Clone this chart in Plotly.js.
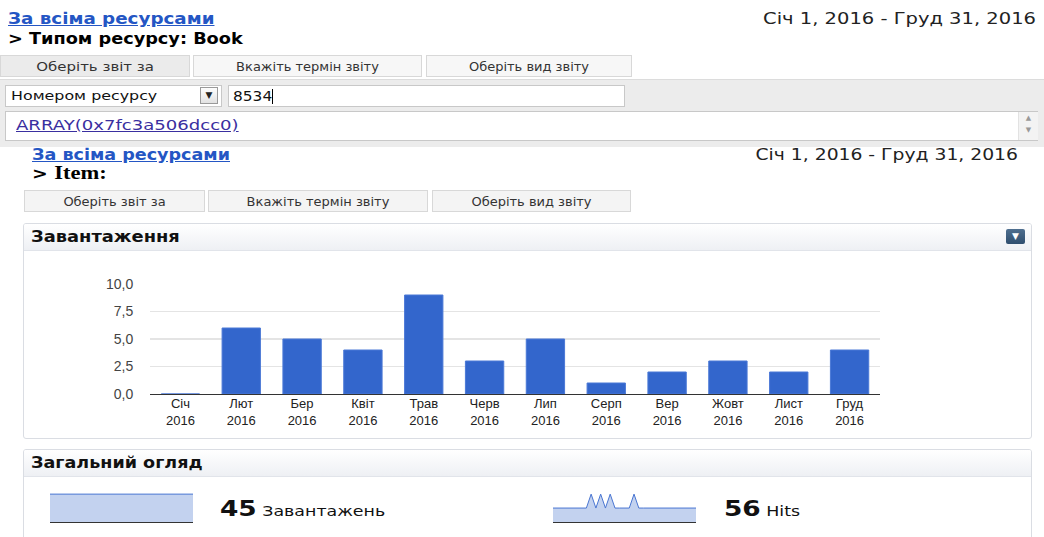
<!DOCTYPE html>
<html><head><meta charset="utf-8">
<script src="https://cdn.plot.ly/plotly-3.0.1.min.js"></script>
<style>
html,body{margin:0;padding:0}
body{width:1044px;height:537px;overflow:hidden;background:#fff;font-family:"DejaVu Sans",Verdana,sans-serif;position:relative;color:#111}
.a{position:absolute;white-space:nowrap}
.s{display:inline-block;transform-origin:left center}
.sr{display:inline-block;transform-origin:right center}
.u{text-decoration:underline}
.lnk{font-weight:bold;font-size:15px;color:#2456c4}
.crumb{font-weight:bold;font-size:15px;color:#000}
.date{font-size:15px;color:#222}
.btn{position:absolute;height:22px;line-height:22px;text-align:center;font-size:13px;color:#333;border:1px solid #d8d8d8;background:#f4f4f4;box-sizing:border-box}
.panel{position:absolute;border:1px solid #dadde3;border-radius:3px;background:#fff;box-sizing:border-box;overflow:hidden}
.phead{position:absolute;left:0;top:0;right:0;height:26px;background:linear-gradient(#ffffff,#eef0f4);border-bottom:1px solid #e1e4ea;font-weight:bold;font-size:15px;line-height:27px;padding-left:7px;color:#111}
</style>
</head><body>

<div class="a lnk" style="left:8px;top:10px"><span class="s u" style="transform:scaleX(1.22)">За всіма ресурсами</span></div>
<div class="a crumb" style="left:8px;top:30px"><span class="s" style="transform:scaleX(1.18)">&gt; Типом ресурсу: Book</span></div>
<div class="a date" style="right:8px;top:10px"><span class="sr" style="transform:scaleX(1.30)">Січ 1, 2016 - Груд 31, 2016</span></div>

<div class="btn" style="left:0;top:55px;width:190px;background:#ebebeb"><span style="display:inline-block;transform:scaleX(1.15)">Оберіть звіт за</span></div>
<div class="btn" style="left:193px;top:55px;width:229px;background:#f7f7f7">Вкажіть термін звіту</div>
<div class="btn" style="left:426px;top:55px;width:206px;background:#f7f7f7">Оберіть вид звіту</div>

<div class="a" style="left:0;top:79px;width:1044px;height:67px;background:#ececec;border-top:1px solid #dcdcdc"></div>
<div class="a" style="left:5px;top:85px;width:217px;height:22px;background:#fff;border:1px solid #c8c8c8;box-sizing:border-box;font-size:13px;line-height:20px;padding-left:5px;color:#111"><span class="s" style="transform:scaleX(1.22)">Номером ресурсу</span></div>
<div class="a" style="left:200px;top:87px;width:18px;height:17px;border:1px solid #9a9a9a;background:linear-gradient(#fdfdfd,#e2e2e2);box-sizing:border-box;font-size:9px;line-height:15px;text-align:center;color:#222">▼</div>
<div class="a" style="left:228px;top:85px;width:397px;height:22px;background:#fff;border:1px solid #c8c8c8;box-sizing:border-box;font-size:14px;line-height:20px;padding-left:4px;color:#111"><span class="s" style="transform:scaleX(1.1)">8534</span><span style="display:inline-block;width:1px;height:15px;background:#000;vertical-align:-3px;margin-left:3px"></span></div>
<div class="a" style="left:5px;top:111px;width:1033px;height:30px;background:#fff;border:1px solid #c8c8c8;box-sizing:border-box"></div>
<div class="a" style="left:16px;top:117px;font-size:14px;color:#3a2fa0"><span class="s u" style="transform:scaleX(1.29)">ARRAY(0x7fc3a506dcc0)</span></div>
<div class="a" style="left:1018px;top:112px;width:19px;height:28px;background:#f3f3f3;border-left:1px solid #e2e2e2;font-size:7px;color:#999;text-align:center;line-height:12px">▲<br>▼</div>

<div class="a lnk" style="left:32px;top:146px"><span class="s u" style="transform:scaleX(1.17)">За всіма ресурсами</span></div>
<div class="a crumb" style="left:32px;top:163px"><span class="s" style="transform:scaleX(1.25)">&gt; <span style="font-family:'Liberation Serif','Times New Roman',serif;font-size:18px">Item:</span></span></div>
<div class="a date" style="right:26px;top:146px"><span class="sr" style="transform:scaleX(1.25)">Січ 1, 2016 - Груд 31, 2016</span></div>

<div class="btn" style="left:24px;top:190px;width:181px">Оберіть звіт за</div>
<div class="btn" style="left:208px;top:190px;width:220px">Вкажіть термін звіту</div>
<div class="btn" style="left:432px;top:190px;width:199px">Оберіть вид звіту</div>

<div class="panel" style="left:23px;top:223px;width:1009px;height:216px">
  <div class="phead"><span class="s" style="transform:scaleX(1.19)">Завантаження</span></div>
  <div class="a" style="right:6px;top:5px;width:19px;height:15px;border-radius:2px;background:linear-gradient(#4f6f8f,#2f4e6e);color:#fff;font-size:9px;line-height:15px;text-align:center">▼</div>
</div>
<div id="chart" class="a" style="left:24px;top:251px;width:1006px;height:186px"></div>

<div class="panel" style="left:23px;top:449px;width:1009px;height:100px">
  <div class="phead"><span class="s" style="transform:scaleX(1.17)">Загальний огляд</span></div>
</div>
<div id="spark1" class="a" style="left:50px;top:492px;width:143px;height:32px"></div>
<div id="spark2" class="a" style="left:553px;top:492px;width:143px;height:32px"></div>
<div class="a" style="left:220px;top:496px;font-size:14.5px;color:#111"><span class="s" style="transform:scaleX(1.2)"><b style="font-size:22px">45</b> Завантажень</span></div>
<div class="a" style="left:724px;top:496px;font-size:14.5px;color:#111"><span class="s" style="transform:scaleX(1.2)"><b style="font-size:22px">56</b> Hits</span></div>

<script>
const months = ['Січ','Лют','Бер','Квіт','Трав','Черв','Лип','Серп','Вер','Жовт','Лист','Груд'];
const years = ['2016','2016','2016','2016','2016','2016','2016','2016','2016','2016','2016','2016'];
const downloads = [0, 6, 5, 4, 9, 3, 5, 1, 2, 3, 2, 4];
const yTickVals = [0, 2.5, 5, 7.5, 10];
const downloadsSpark = [1, 1, 1, 1, 1, 1, 1, 1, 1, 1, 1, 1];
const hitsSpark = [1, 1, 1, 1, 1, 1, 1, 1, 2, 1, 2, 1, 2, 1, 1, 1, 1, 2, 1, 1, 1, 1, 1, 1, 1, 1, 1, 1, 1, 1, 1];

const idx = months.map((m, i) => i);

Plotly.newPlot('chart', [{
  type: 'bar',
  x: months,
  y: downloads,
  marker: {color: '#3366cc', line: {color: '#4a78d6', width: 1}},
  hoverinfo: 'x+y'
}, {
  type: 'scatter', mode: 'none', xaxis: 'x2', yaxis: 'y',
  x: idx, y: downloads, hoverinfo: 'skip', showlegend: false
}], {
  width: 1006, height: 186,
  margin: {l: 126, r: 150, t: 33, b: 43},
  paper_bgcolor: 'rgba(0,0,0,0)', plot_bgcolor: 'rgba(0,0,0,0)',
  separators: ', ',
  bargap: 0.37,
  showlegend: false,
  font: {family: '"Liberation Sans", Arial, sans-serif', size: 13, color: '#222'},
  xaxis: {type: 'category', showgrid: false, zeroline: false, showline: false,
          ticks: '', tickfont: {size: 13, color: '#222'}},
  xaxis2: {type: 'linear', overlaying: 'x', anchor: 'y', side: 'bottom',
           range: [-0.5, months.length - 0.5], tickvals: idx, ticktext: years,
           showgrid: false, zeroline: false, showline: false,
           ticks: 'outside', ticklen: 14, tickcolor: 'rgba(0,0,0,0)',
           tickfont: {size: 13, color: '#222'}},
  yaxis: {range: [0, 10], tickvals: yTickVals, tickformat: '.1f',
          gridcolor: '#e4e4e4', gridwidth: 1.5,
          zeroline: true, zerolinecolor: '#333', zerolinewidth: 1,
          ticks: 'outside', ticklen: 13, tickcolor: 'rgba(0,0,0,0)',
          tickfont: {size: 14, color: '#444'}}
}, {staticPlot: true});

function spark(id, vals, ymax) {
  Plotly.newPlot(id, [{
    type: 'scatter', mode: 'lines',
    x: vals.map((v, i) => i), y: vals,
    line: {color: '#4a76d2', width: 1},
    fill: 'tozeroy', fillcolor: '#c3d2ef'
  }], {
    width: 143, height: 32,
    margin: {l: 0, r: 0, t: 1, b: 2},
    paper_bgcolor: 'rgba(0,0,0,0)', plot_bgcolor: 'rgba(0,0,0,0)',
    showlegend: false,
    xaxis: {visible: true, range: [0, vals.length - 1], showgrid: false, zeroline: false,
            showticklabels: false, ticks: '', showline: true, linecolor: '#333', linewidth: 1},
    yaxis: {visible: false, range: [0, ymax], fixedrange: true}
  }, {staticPlot: true});
}
spark('spark1', downloadsSpark, 1.04);
spark('spark2', hitsSpark, 2.08);
</script>
</body></html>
